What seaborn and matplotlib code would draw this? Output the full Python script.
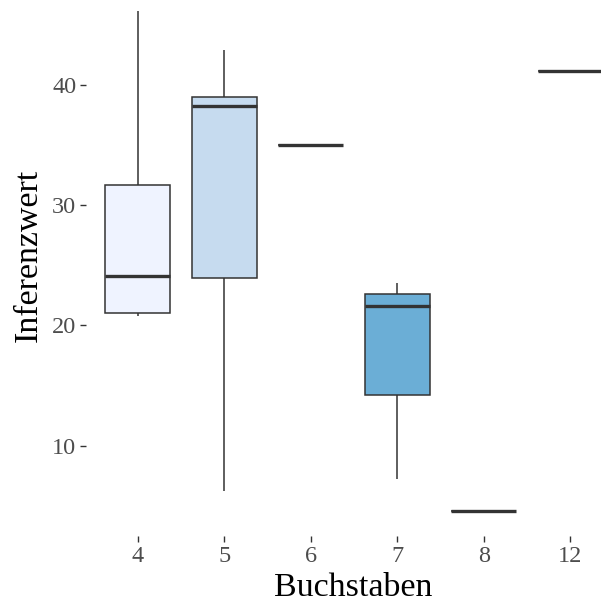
import matplotlib
matplotlib.use("Agg")
import matplotlib.pyplot as plt
import seaborn as sns
import pandas as pd

# Inferenzwert je Wortlänge (Anzahl Buchstaben)
gruppe_4 = [20.8, 21.0, 24.1, 31.7, 46.1]
gruppe_5 = [6.2, 23.9, 38.2, 39.0, 42.9]
gruppe_6 = [35.0]
gruppe_7 = [7.2, 14.2, 21.6, 22.6, 23.5]
gruppe_8 = [4.6]
gruppe_12 = [41.1]

kategorien = ["4", "5", "6", "7", "8", "12"]
farben = ["#EFF3FF", "#C6DBEF", "#9ECAE1", "#6BAED6", "#3182BD", "#08519C"]
y_ticks = [10, 20, 30, 40]

werte = [gruppe_4, gruppe_5, gruppe_6, gruppe_7, gruppe_8, gruppe_12]
df = pd.DataFrame({
    "Buchstaben": [k for k, w in zip(kategorien, werte) for _ in w],
    "Inferenzwert": [v for w in werte for v in w],
})

sns.set_style("white")
plt.rcParams["font.family"] = ["Liberation Serif", "DejaVu Serif"]

fig = plt.figure(figsize=(6.01, 6.07), dpi=100)
ax = fig.add_axes([86 / 601, 71 / 607, 536 / 601, 550 / 607])

sns.boxplot(
    data=df, x="Buchstaben", y="Inferenzwert", hue="Buchstaben",
    order=kategorien, hue_order=kategorien, palette=farben, saturation=1,
    width=0.75, linecolor="#333333", linewidth=1.1, showcaps=False,
    whis=1.5, fliersize=0, legend=False,
    medianprops={"linewidth": 2.4, "color": "#333333"},
    ax=ax,
)

ax.set_xlim(-0.6, 5.6)
ax.set_ylim(2.5, 48.2)
ax.set_yticks(y_ticks)
for s in ax.spines.values():
    s.set_visible(False)
ax.tick_params(axis="both", length=4, width=1.0, color="#333333",
               labelcolor="#4D4D4D", labelsize=17.5, pad=3,
               left=True, bottom=True)

ax.set_xlabel("Buchstaben", fontsize=24.5, color="black")
ax.set_ylabel("Inferenzwert", fontsize=24.5, color="black")
ax.xaxis.set_label_coords(0.498, -0.0945)
ax.xaxis.label.set_va("center")
ax.yaxis.set_label_coords(-0.108, 0.51)
ax.yaxis.label.set_va("center")

fig.savefig("out.png", dpi=100)
